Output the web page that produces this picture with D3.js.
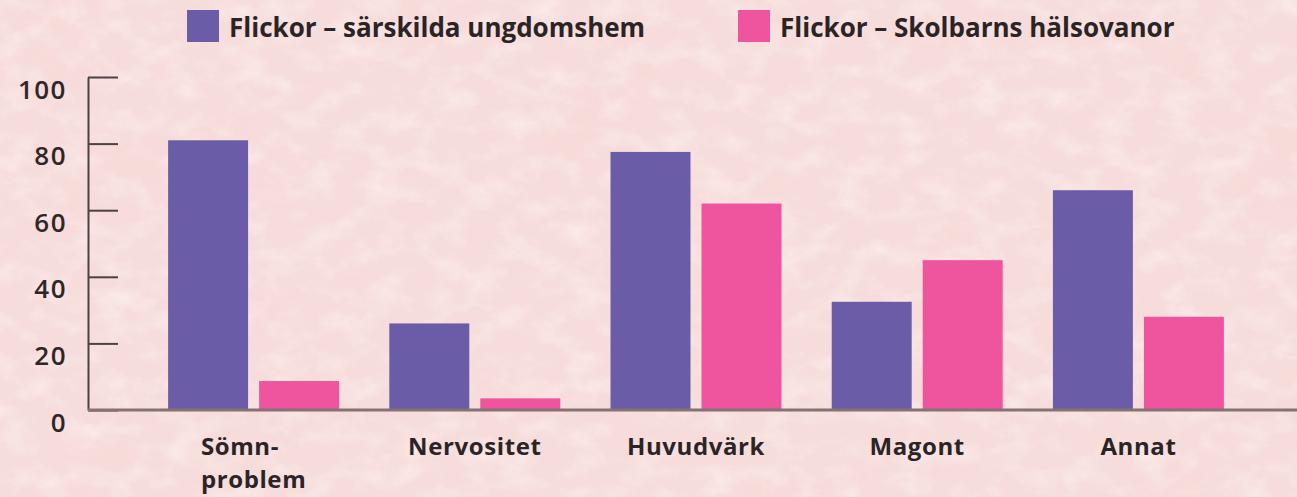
<!DOCTYPE html>
<html><head><meta charset="utf-8">
<script src="https://cdn.jsdelivr.net/npm/d3@7"></script>
<style>
html,body{margin:0;padding:0;background:#f4d8d6;overflow:hidden}
svg{display:block}
.lbl{font-family:"Open Sans",sans-serif;font-weight:700;fill:#2b2426}
</style>
</head><body>
<svg id="chart" width="1297" height="497"></svg>
<script>
// ---- data ----
const categories = ["Sömn-\nproblem", "Nervositet", "Huvudvärk", "Magont", "Annat"];
const seriesNames = ["Flickor – särskilda ungdomshem", "Flickor – Skolbarns hälsovanor"];
const ungdomshem = [81, 26, 77.5, 32.5, 66];
const skolbarn = [8.7, 3.5, 62, 45, 28];
const yTicks = [0, 20, 40, 60, 80, 100];
const colors = ["#6b5ca8", "#ee559e"];

const svg = d3.select("#chart");
const W = 1297, H = 497;

// ---- background texture ----
const defs = svg.append("defs");
function noiseFilter(id, freq, oct, seed, rgb, a, b) {
  const f = defs.append("filter").attr("id", id).attr("x",0).attr("y",0).attr("width","100%").attr("height","100%");
  f.append("feTurbulence").attr("type","fractalNoise").attr("baseFrequency",freq).attr("numOctaves",oct).attr("seed",seed).attr("result","n");
  f.append("feColorMatrix").attr("in","n").attr("type","matrix")
    .attr("values", `0 0 0 0 ${rgb[0]}  0 0 0 0 ${rgb[1]}  0 0 0 0 ${rgb[2]}  ${a} 0 0 0 ${b}`);
}
noiseFilter("blotDark", "0.006 0.009", 3, 11, [0.93, 0.68, 0.68], 2.6, -1.2);
noiseFilter("blotLight", "0.03 0.045", 4, 7, [1, 0.97, 0.96], 2.2, -0.95);
noiseFilter("blotPink", "0.035 0.05", 4, 23, [0.94, 0.72, 0.72], 2.2, -1.0);
noiseFilter("grain", "0.8", 2, 3, [0.92, 0.70, 0.71], 1.8, -0.7);

svg.append("rect").attr("width",W).attr("height",H).attr("fill","#f6dddb");
svg.append("rect").attr("width",W).attr("height",H).attr("filter","url(#blotDark)").attr("opacity",0.4);
svg.append("rect").attr("width",W).attr("height",H).attr("filter","url(#blotPink)").attr("opacity",0.35);
svg.append("rect").attr("width",W).attr("height",H).attr("filter","url(#blotLight)").attr("opacity",0.45);
svg.append("rect").attr("width",W).attr("height",H).attr("filter","url(#grain)").attr("opacity",0.3);

// ---- scales ----
const y = d3.scaleLinear().domain([0, 100]).range([410, 77]);
const x0 = d3.scaleBand().domain(categories).range([143, 1249]);
const x1 = d3.scaleBand().domain(seriesNames).range([0, x0.bandwidth()]).paddingInner(0.121).paddingOuter(0.276);

const rows = categories.map((c, i) => ({cat: c, vals: [ungdomshem[i], skolbarn[i]]}));

// ---- bars ----
const g = svg.append("g");
const grp = g.selectAll("g.grp").data(rows).join("g").attr("class","grp")
  .attr("transform", d => `translate(${x0(d.cat)},0)`);
grp.selectAll("rect").data(d => d.vals.map((v, k) => ({name: seriesNames[k], v, k})))
  .join("rect")
  .attr("x", d => x1(d.name))
  .attr("width", x1.bandwidth())
  .attr("y", d => y(d.v))
  .attr("height", d => y(0) - y(d.v))
  .attr("fill", d => colors[d.k]);

// ---- y axis ----
const yAxis = d3.axisLeft(y).tickValues(yTicks).tickSize(-30).tickSizeOuter(0).tickPadding(21);
const ya = svg.append("g").attr("transform","translate(88,0)").call(yAxis);
ya.select(".domain").attr("stroke","#4a4243").attr("stroke-width",2);
ya.selectAll(".tick line").attr("stroke","#4a4243").attr("stroke-width",2);
ya.selectAll(".tick text")
  .attr("dy", null).attr("y", 11).attr("dominant-baseline","central")
  .attr("font-family","'Open Sans', sans-serif").attr("font-weight",600)
  .attr("font-size",26).attr("letter-spacing",1.5).attr("fill","#2e2728");

// baseline
svg.append("line").attr("x1",88).attr("x2",W).attr("y1",y(0)).attr("y2",y(0))
  .attr("stroke","#857373").attr("stroke-width",3);

// ---- x labels ----
const xl = svg.append("g");
categories.forEach(c => {
  const lines = c.split("\n");
  const cx = x0(c) + x0.bandwidth() / 2;
  const ts = lines.map((ln, i) => xl.append("text").attr("class","lbl")
    .attr("font-size",24).attr("letter-spacing",0.6)
    .attr("y", 455 + i * 33).text(ln));
  let maxW = 0;
  ts.forEach(t => { maxW = Math.max(maxW, t.node().getComputedTextLength()); });
  ts.forEach(t => t.attr("x", cx - maxW / 2));
});

// ---- legend ----
const legX = [187, 738];
const leg = svg.append("g");
seriesNames.forEach((s, i) => {
  leg.append("rect").attr("x", legX[i]).attr("y", 10).attr("width", 32).attr("height", 32).attr("fill", colors[i]);
  leg.append("text").attr("class","lbl").attr("x", legX[i] + 42).attr("y", 37).attr("font-size",26).text(s);
});
</script>
</body></html>
